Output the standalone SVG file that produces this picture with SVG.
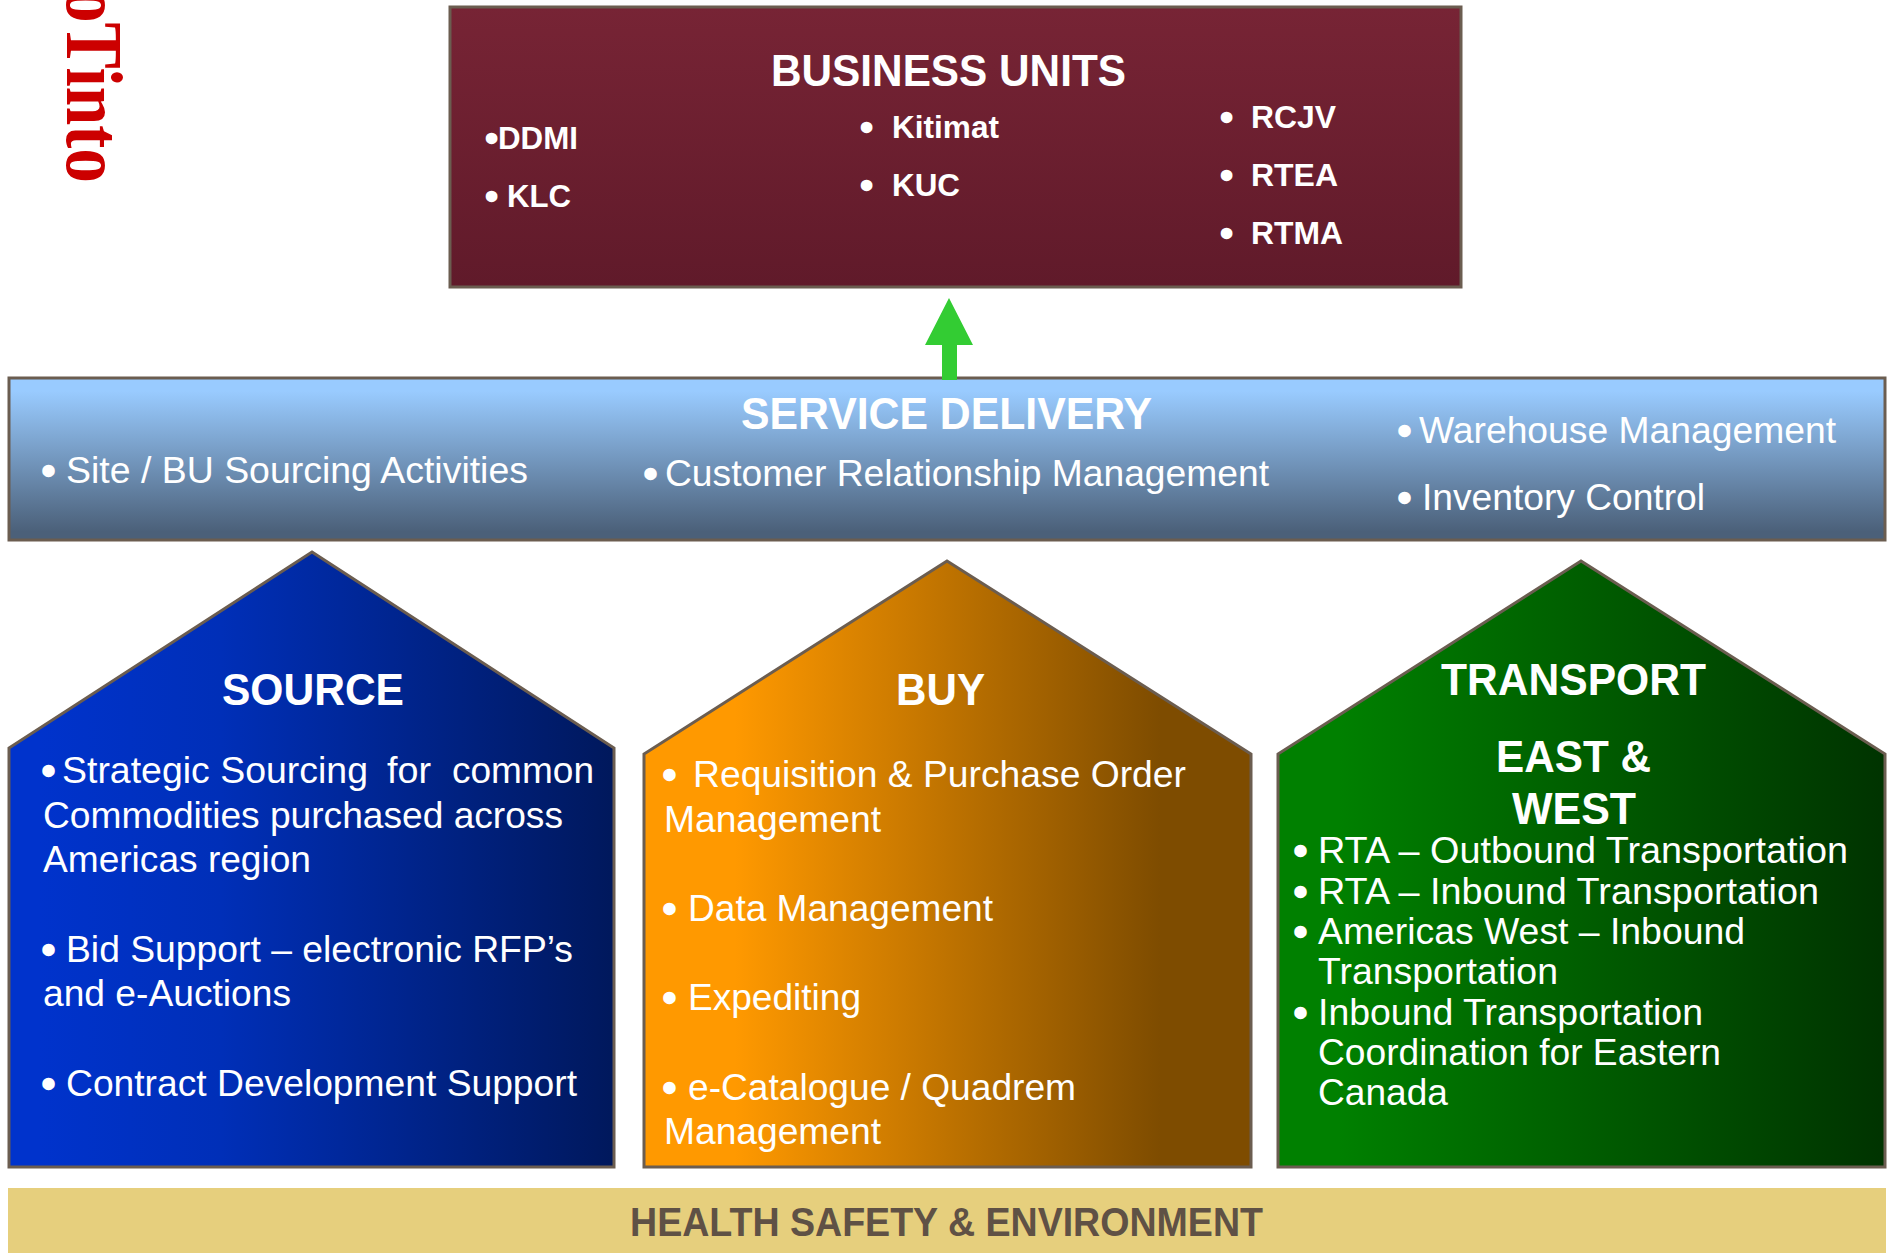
<svg xmlns="http://www.w3.org/2000/svg" width="1889" height="1253" viewBox="0 0 1889 1253">
<defs>
<linearGradient id="gBU" x1="0" y1="0" x2="0" y2="1"><stop offset="0" stop-color="#772435"/><stop offset="1" stop-color="#601a2a"/></linearGradient>
<linearGradient id="gSD" x1="0" y1="0" x2="0" y2="1"><stop offset="0.08" stop-color="#99cbff"/><stop offset="0.95" stop-color="#4b6079"/></linearGradient>
<linearGradient id="gSrc" x1="0" y1="0" x2="1" y2="0"><stop offset="0.05" stop-color="#0033cc"/><stop offset="0.35" stop-color="#002fb8"/><stop offset="1" stop-color="#00185c"/></linearGradient>
<linearGradient id="gBuy" x1="0" y1="0" x2="1" y2="0"><stop offset="0.15" stop-color="#ff9900"/><stop offset="0.85" stop-color="#7e4c00"/></linearGradient>
<linearGradient id="gTr" x1="0" y1="0" x2="1" y2="0"><stop offset="0.1" stop-color="#008000"/><stop offset="1" stop-color="#003300"/></linearGradient>
</defs>
<style>
text{font-family:"Liberation Sans",Arial,sans-serif;fill:#fff}
.box{stroke:#6b5d50;stroke-width:3}
.h{font-weight:700;font-size:45px}
.b{font-weight:700;font-size:32px}
.t{font-size:37px}
.d{stroke:#fff;stroke-width:2.5px}
.hse{fill:#5f5145;font-weight:700;font-size:40px}
.logo{fill:#cc0000;font-family:"Liberation Serif","Times New Roman",serif;font-weight:700;font-size:80px}
</style>
<g id="logo"><text class="logo" transform="translate(67 -12) rotate(90)" x="0" y="0" textLength="195" lengthAdjust="spacingAndGlyphs">oTinto</text></g>
<g id="business-units">
<rect class="box" x="450" y="7" width="1011" height="280" fill="url(#gBU)"/>
<text class="h" x="771" y="86" textLength="355" lengthAdjust="spacingAndGlyphs">BUSINESS UNITS</text>
<text class="b" y="149"><tspan class="d" x="486">•</tspan><tspan x="498" textLength="80" lengthAdjust="spacingAndGlyphs">DDMI</tspan></text>
<text class="b" y="206.5"><tspan class="d" x="486">•</tspan><tspan x="507" textLength="64" lengthAdjust="spacingAndGlyphs">KLC</tspan></text>
<text class="b" y="137.5"><tspan class="d" x="861">•</tspan><tspan x="892" textLength="107" lengthAdjust="spacingAndGlyphs">Kitimat</tspan></text>
<text class="b" y="195.7"><tspan class="d" x="861">•</tspan><tspan x="892" textLength="68" lengthAdjust="spacingAndGlyphs">KUC</tspan></text>
<text class="b" y="127.5"><tspan class="d" x="1221">•</tspan><tspan x="1251" textLength="85" lengthAdjust="spacingAndGlyphs">RCJV</tspan></text>
<text class="b" y="185.7"><tspan class="d" x="1221">•</tspan><tspan x="1251" textLength="87" lengthAdjust="spacingAndGlyphs">RTEA</tspan></text>
<text class="b" y="244"><tspan class="d" x="1221">•</tspan><tspan x="1251" textLength="92" lengthAdjust="spacingAndGlyphs">RTMA</tspan></text>
</g>
<g id="service-delivery">
<rect class="box" x="9" y="378" width="1876" height="162" fill="url(#gSD)"/>
<text class="h" x="741" y="428.6" textLength="411" lengthAdjust="spacingAndGlyphs">SERVICE DELIVERY</text>
<text class="t" y="483"><tspan class="d" x="42">•</tspan><tspan x="66" textLength="462" lengthAdjust="spacingAndGlyphs">Site / BU Sourcing Activities</tspan></text>
<text class="t" y="485.7"><tspan class="d" x="644">•</tspan><tspan x="665" textLength="604" lengthAdjust="spacingAndGlyphs">Customer Relationship Management</tspan></text>
<text class="t" y="443"><tspan class="d" x="1398">•</tspan><tspan x="1419" textLength="417" lengthAdjust="spacingAndGlyphs">Warehouse Management</tspan></text>
<text class="t" y="510"><tspan class="d" x="1398">•</tspan><tspan x="1422" textLength="283" lengthAdjust="spacingAndGlyphs">Inventory Control</tspan></text>
</g>
<g id="source">
<polygon class="box" points="312,552 614,748 614,1167 9,1167 9,748" fill="url(#gSrc)"/>
<text class="h" x="222" y="705" textLength="182" lengthAdjust="spacingAndGlyphs">SOURCE</text>
<text class="t" y="783"><tspan class="d" x="42">•</tspan><tspan x="62" textLength="306" lengthAdjust="spacingAndGlyphs">Strategic Sourcing</tspan> <tspan x="387" textLength="44" lengthAdjust="spacingAndGlyphs">for</tspan> <tspan x="452" textLength="142" lengthAdjust="spacingAndGlyphs">common</tspan></text>
<text class="t" x="43" y="828" textLength="520" lengthAdjust="spacingAndGlyphs">Commodities purchased across</text>
<text class="t" x="43" y="872" textLength="268" lengthAdjust="spacingAndGlyphs">Americas region</text>
<text class="t" y="962"><tspan class="d" x="42">•</tspan><tspan x="66" textLength="507" lengthAdjust="spacingAndGlyphs">Bid Support – electronic RFP’s</tspan></text>
<text class="t" x="43" y="1006" textLength="248" lengthAdjust="spacingAndGlyphs">and e-Auctions</text>
<text class="t" y="1096"><tspan class="d" x="42">•</tspan><tspan x="66" textLength="511" lengthAdjust="spacingAndGlyphs">Contract Development Support</tspan></text>
</g>
<g id="buy">
<polygon class="box" points="947,561 1251,754 1251,1167 644,1167 644,754" fill="url(#gBuy)"/>
<text class="h" x="896" y="705" textLength="89" lengthAdjust="spacingAndGlyphs">BUY</text>
<text class="t" y="787"><tspan class="d" x="663">•</tspan><tspan x="693" textLength="493" lengthAdjust="spacingAndGlyphs">Requisition &amp; Purchase Order</tspan></text>
<text class="t" x="664" y="832" textLength="217" lengthAdjust="spacingAndGlyphs">Management</text>
<text class="t" y="921"><tspan class="d" x="663">•</tspan><tspan x="688" textLength="305" lengthAdjust="spacingAndGlyphs">Data Management</tspan></text>
<text class="t" y="1010"><tspan class="d" x="663">•</tspan><tspan x="688" textLength="173" lengthAdjust="spacingAndGlyphs">Expediting</tspan></text>
<text class="t" y="1100"><tspan class="d" x="663">•</tspan><tspan x="688" textLength="388" lengthAdjust="spacingAndGlyphs">e-Catalogue / Quadrem</tspan></text>
<text class="t" x="664" y="1144" textLength="217" lengthAdjust="spacingAndGlyphs">Management</text>
</g>
<g id="transport">
<polygon class="box" points="1581,561 1885,754 1885,1167 1278,1167 1278,754" fill="url(#gTr)"/>
<text class="h" x="1441" y="695" textLength="265" lengthAdjust="spacingAndGlyphs">TRANSPORT</text>
<text class="h" x="1496" y="772" textLength="155" lengthAdjust="spacingAndGlyphs">EAST &amp;</text>
<text class="h" x="1512" y="824" textLength="124" lengthAdjust="spacingAndGlyphs">WEST</text>
<text class="t" y="863"><tspan class="d" x="1294">•</tspan><tspan x="1318" textLength="530" lengthAdjust="spacingAndGlyphs">RTA – Outbound Transportation</tspan></text>
<text class="t" y="904"><tspan class="d" x="1294">•</tspan><tspan x="1318" textLength="501" lengthAdjust="spacingAndGlyphs">RTA – Inbound Transportation</tspan></text>
<text class="t" y="944"><tspan class="d" x="1294">•</tspan><tspan x="1318" textLength="427" lengthAdjust="spacingAndGlyphs">Americas West – Inbound</tspan></text>
<text class="t" x="1318" y="984" textLength="240" lengthAdjust="spacingAndGlyphs">Transportation</text>
<text class="t" y="1025"><tspan class="d" x="1294">•</tspan><tspan x="1318" textLength="385" lengthAdjust="spacingAndGlyphs">Inbound Transportation</tspan></text>
<text class="t" x="1318" y="1065" textLength="403" lengthAdjust="spacingAndGlyphs">Coordination for Eastern</text>
<text class="t" x="1318" y="1105" textLength="130" lengthAdjust="spacingAndGlyphs">Canada</text>
</g>
<g id="hse">
<rect x="8" y="1188" width="1878" height="65" fill="#e6cf7d"/>
<text class="hse" x="630" y="1236" textLength="633" lengthAdjust="spacingAndGlyphs">HEALTH SAFETY &amp; ENVIRONMENT</text>
</g>
<g id="connectors">
<polygon points="949,298 973,345 957,345 957,380 942,380 942,345 925,345" fill="#33cc33"/>
</g>
</svg>
